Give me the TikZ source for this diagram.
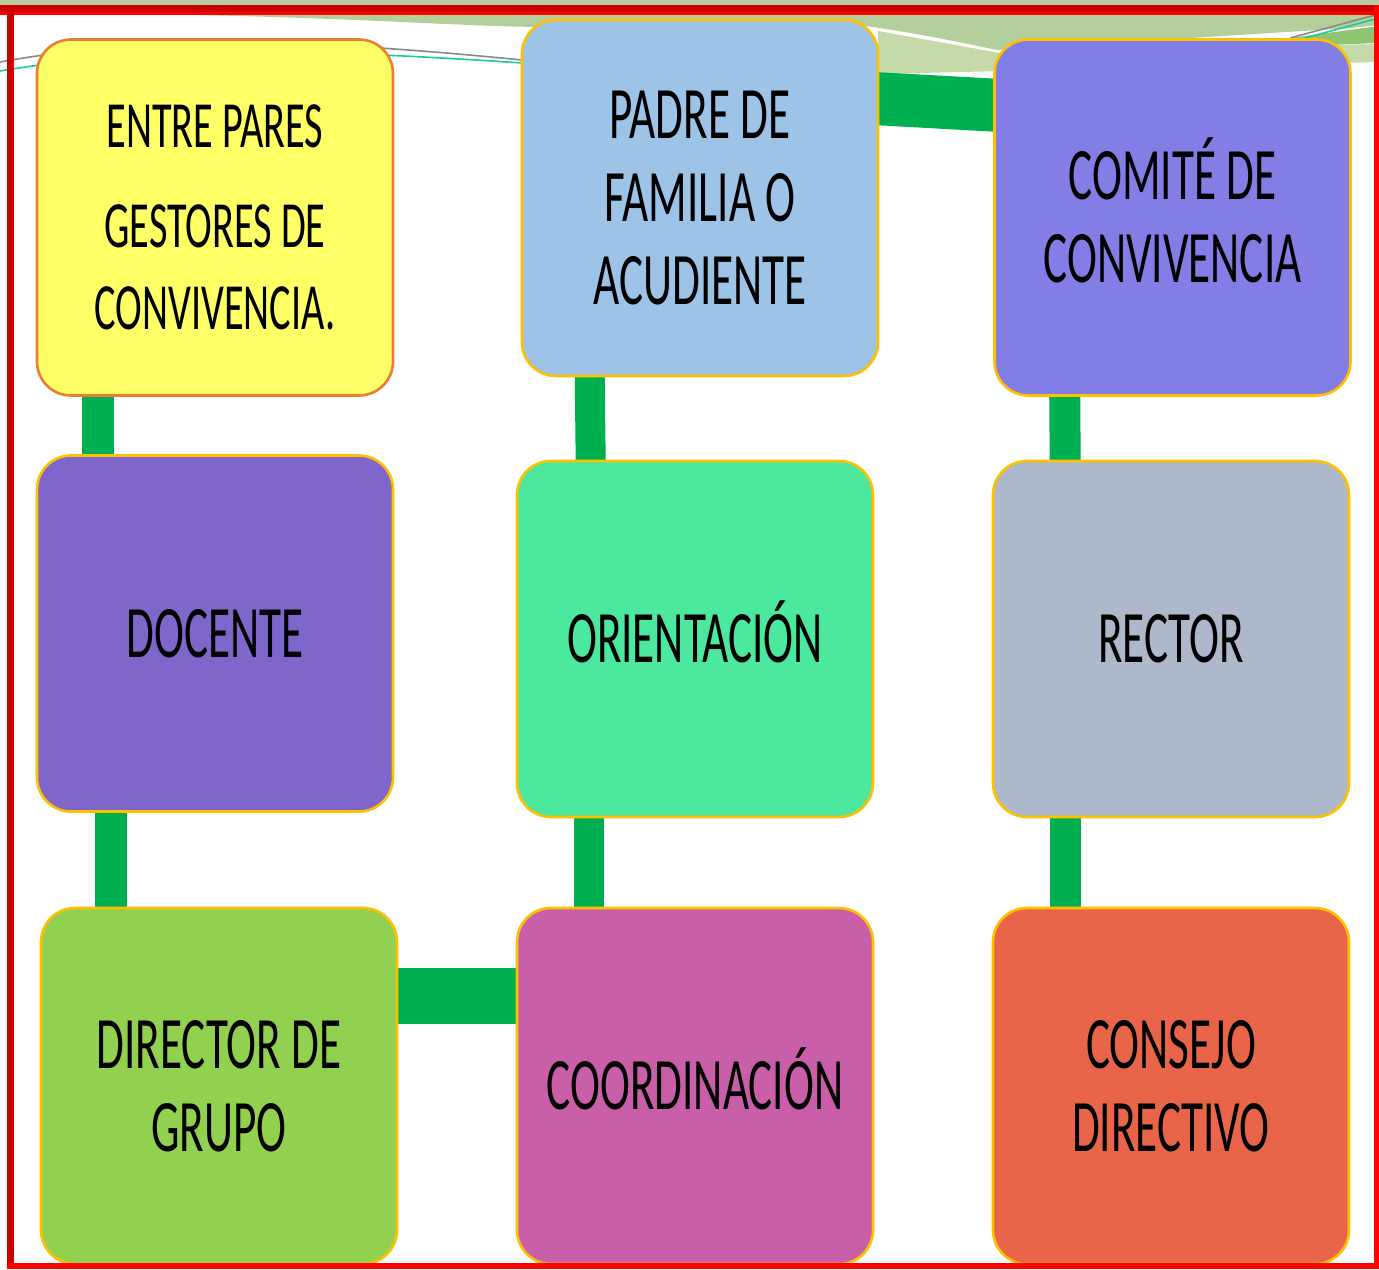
\documentclass[tikz,border=0pt]{standalone}
\usepackage{fontspec}
\usetikzlibrary{calc}
\newfontfamily\boxfont[FakeStretch=0.61]{Carlito}
\newcommand\capbox[1]{\raisebox{0pt}[\fontcharht\font`E]{#1}}
\pgfdeclarelayer{deco}
\pgfdeclarelayer{links}
\pgfsetlayers{deco,links,main}
\definecolor{linkgreen}{HTML}{00B050}
\definecolor{gold}{HTML}{FFC000}
\definecolor{orangeline}{HTML}{ED7D31}
\definecolor{cYellow}{HTML}{FFFF66}
\definecolor{cBlue}{HTML}{9DC3E6}
\definecolor{cLav}{HTML}{837DE6}
\definecolor{cPurple}{HTML}{7F66CB}
\definecolor{cMint}{HTML}{4BE89E}
\definecolor{cGrey}{HTML}{ADB8CA}
\definecolor{cLime}{HTML}{92D050}
\definecolor{cPink}{HTML}{CA5FA9}
\definecolor{cCoral}{HTML}{E9654A}
\definecolor{frameDark}{HTML}{CC0000}
\definecolor{frameRed}{HTML}{FF0000}
\definecolor{swLight}{HTML}{B2CF9C}
\definecolor{swOlive}{HTML}{C6D9A8}
\definecolor{swDark}{HTML}{8DC572}
\definecolor{outsideG}{HTML}{B7CBA3}
\definecolor{thinGrey}{HTML}{8A8A80}
\definecolor{thinTeal}{HTML}{1CCB9A}
\tikzset{
  box/.style={draw=gold, line width=1.3pt, rounded corners=17pt,
    minimum width=178pt, minimum height=178pt, inner sep=0pt,
    align=center, text=black,
    font=\boxfont\fontsize{37}{41.5}\selectfont},
  smalltext/.style={font=\boxfont\fontsize{33}{41}\selectfont},
  link/.style={draw=linkgreen}
}
\begin{document}
\begin{tikzpicture}[x=0.5pt,y=-0.5pt]
\useasboundingbox (0,0) rectangle (1379,1269);

% boxes
\node[box, smalltext, draw=orangeline, fill=cYellow] (b1) at (215,217.5) {ENTRE PARES\\[9pt]GESTORES DE\\CONVIVENCIA.};
\node[box, fill=cBlue] (b2) at (700,198) {PADRE DE\\FAMILIA O\\ACUDIENTE};
\node[box, fill=cLav] (b3) at (1172.5,217.5) {\capbox{COMITÉ DE}\\CONVIVENCIA};
\node[box, fill=cPurple] (b4) at (215,633.5) {DOCENTE};
\node[box, fill=cMint] (b5) at (695,639) {\capbox{ORIENTACIÓN}};
\node[box, fill=cGrey] (b6) at (1171,639) {RECTOR};
\node[box, fill=cLime] (b7) at (219,1086) {DIRECTOR DE\\GRUPO};
\node[box, fill=cPink] (b8) at (695,1086) {\capbox{COORDINACIÓN}};
\node[box, fill=cCoral] (b9) at (1171,1086) {CONSEJO\\DIRECTIVO};

% decoration
\begin{pgfonlayer}{deco}
\fill[white] (0,0) rectangle (1379,1269);
\fill[outsideG] (0,0) rectangle (1379,8);
\fill[swLight] (140,14) .. controls (350,17) and (450,26) .. (540,27)
  -- (850,24) .. controls (900,30) and (950,40) .. (997,50)
  -- (1351,28) -- (1379,25) -- (1379,14) -- cycle;
\fill[swOlive] (878,31) -- (1000,53) -- (1379,44) -- (1379,62) -- (878,74) -- cycle;
\fill[swDark] (1290,38) -- (1379,26) -- (1379,43) -- (1300,46) -- cycle;
\draw[thinGrey, line width=0.8pt] (0,62) .. controls (150,35) and (300,38) .. (522,60);
\draw[thinTeal, line width=0.8pt] (0,71) .. controls (150,46) and (300,48) .. (522,63);
\draw[thinGrey, line width=0.8pt] (1290,38) -- (1379,14);
\draw[thinTeal, line width=0.8pt] (1305,38) -- (1379,18);
\end{pgfonlayer}

% connectors
\begin{pgfonlayer}{links}
\draw[link, line width=16pt] ($(b1.south west)+(62,-2)$) -- ($(b4.north west)+(62,2)$);
\draw[link, line width=15pt] ($(b2.south west)+(69,-2)$) -- ($(b5.north west)+(75,2)$);
\draw[link, line width=15.5pt] ($(b3.south west)+(71.5,-2)$) -- ($(b6.north west)+(73.5,2)$);
\draw[link, line width=16pt] ($(b4.south west)+(75,-2)$) -- ($(b7.north west)+(71,2)$);
\draw[link, line width=15pt] ($(b5.south west)+(73,-2)$) -- ($(b8.north west)+(73,2)$);
\draw[link, line width=15.5pt] ($(b6.south west)+(73.5,-2)$) -- ($(b9.north west)+(73.5,2)$);
\draw[link, line width=28pt] ($(b7.north east)+(-2,89)$) -- ($(b8.north west)+(2,89)$);
\draw[link, line width=26.5pt] ($(b2.north east)+(-2,80)$) -- ($(b3.north west)+(2,67)$);
\end{pgfonlayer}

% frame
\fill[frameDark] (0,5) rectangle (1379,12);
\fill[frameRed] (0,12) rectangle (1379,14.5);
\fill[frameDark] (7,5) rectangle (14,1269);
\fill[frameRed] (1374,5) rectangle (1379,1269);
\fill[frameRed] (7,1263) rectangle (1379,1269);
\end{tikzpicture}
\end{document}
